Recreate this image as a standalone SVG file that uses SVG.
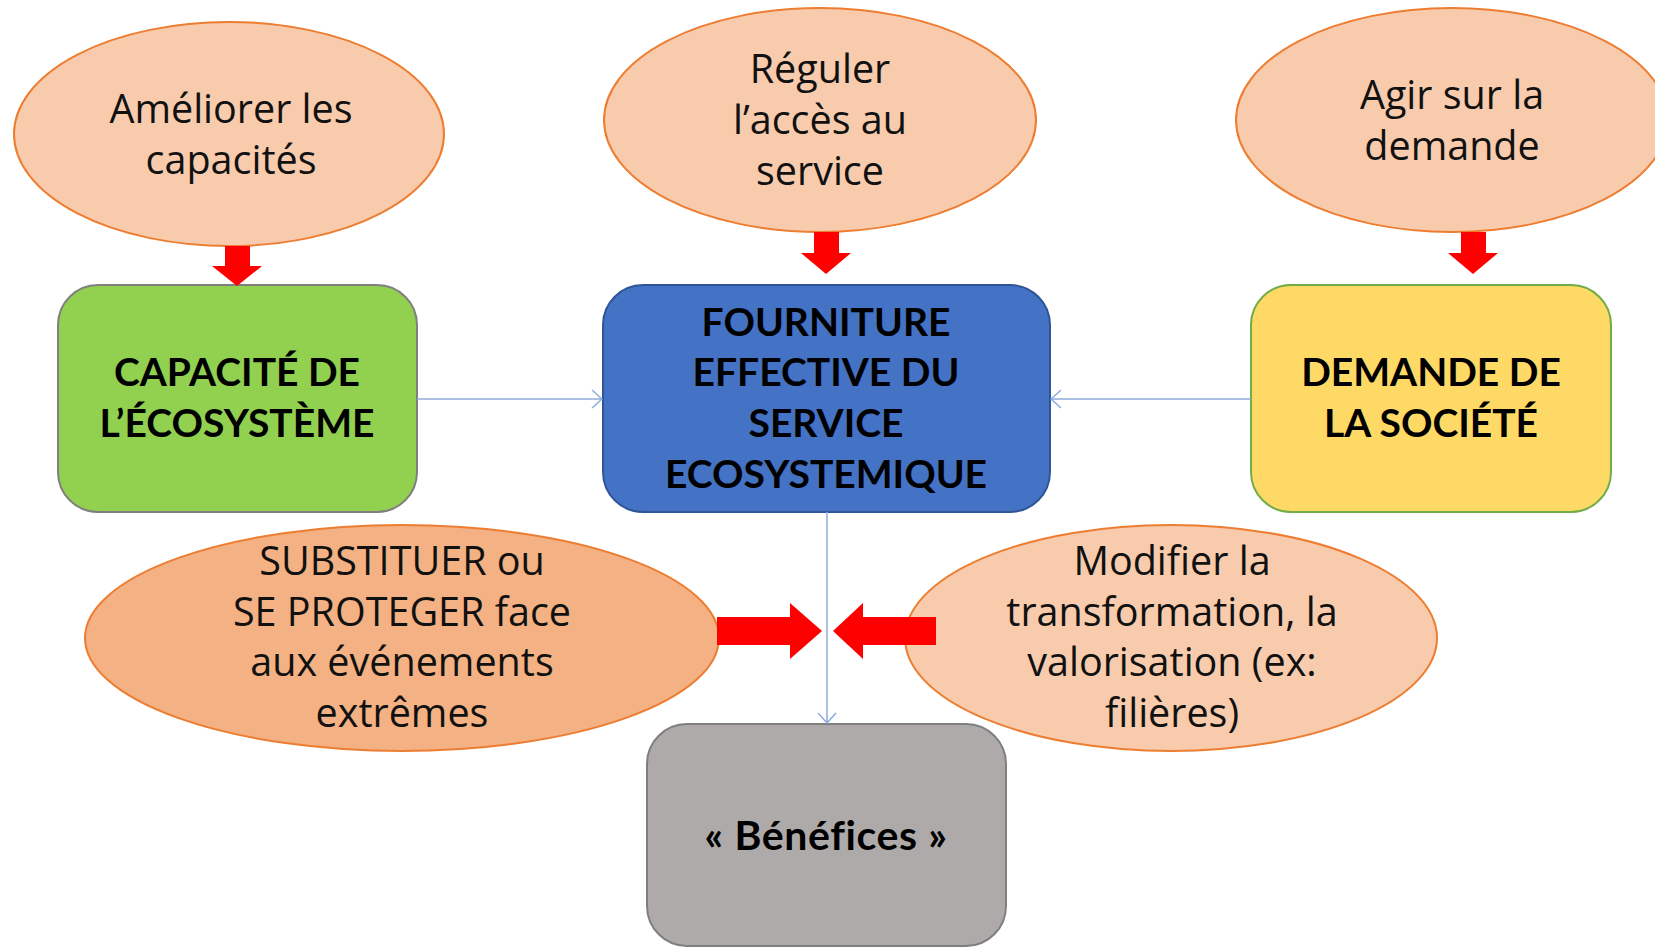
<svg xmlns="http://www.w3.org/2000/svg" width="1655" height="948" viewBox="0 0 1655 948">
<defs>
<style>
.ell{fill:#F8CBAD;stroke:#ED7D31;stroke-width:2}
.ell2{fill:#F4B183;stroke:#ED7D31;stroke-width:2}
.t{font-family:"Open Sans",Lato,"Liberation Sans",sans-serif;font-size:39.5px;fill:#111;text-anchor:middle}
.b{font-family:Lato,"Open Sans","Liberation Sans",sans-serif;font-size:39px;font-weight:bold;fill:#000;text-anchor:middle}
.con{stroke:#8FAADC;stroke-width:1.5;fill:none}
.red{fill:#FF0000}
</style>
<marker id="chev" viewBox="0 0 12 20" refX="11" refY="10" markerWidth="12" markerHeight="20" markerUnits="userSpaceOnUse" orient="auto">
<path d="M1,1 L11,10 L1,19" fill="none" stroke="#8FAADC" stroke-width="1.5"/>
</marker>
</defs>
<rect width="1655" height="948" fill="#fff"/>

<g id="n-ameliorer">
<ellipse class="ell" cx="229" cy="134" rx="215" ry="112"/>
<text class="t" x="231" y="123">Améliorer les</text>
<text class="t" x="231" y="174">capacités</text>
</g>
<g id="n-reguler">
<ellipse class="ell" cx="820" cy="120" rx="216" ry="112"/>
<text class="t" x="820" y="83">Réguler</text>
<text class="t" x="820" y="134">l’accès au</text>
<text class="t" x="820" y="185">service</text>
</g>
<g id="n-agir">
<ellipse class="ell" cx="1452" cy="120" rx="216" ry="112"/>
<text class="t" x="1452" y="109">Agir sur la</text>
<text class="t" x="1452" y="160">demande</text>
</g>

<g id="n-capacite">
<rect x="58" y="285" width="359" height="227" rx="40" fill="#92D050" stroke="#7F7F7F" stroke-width="2"/>
<text class="b" x="237" y="386">CAPACITÉ DE</text>
<text class="b" x="237" y="437">L’ÉCOSYSTÈME</text>
</g>
<g id="n-fourniture">
<rect x="603" y="285" width="447" height="227" rx="40" fill="#4472C4" stroke="#2F5597" stroke-width="2"/>
<text class="b" x="826" y="336">FOURNITURE</text>
<text class="b" x="826" y="386">EFFECTIVE DU</text>
<text class="b" x="826" y="437">SERVICE</text>
<text class="b" x="826" y="488">ECOSYSTEMIQUE</text>
</g>
<g id="n-demande">
<rect x="1251" y="285" width="360" height="227" rx="40" fill="#FFD966" stroke="#70AD47" stroke-width="2"/>
<text class="b" x="1431" y="386">DEMANDE DE</text>
<text class="b" x="1431" y="437">LA SOCIÉTÉ</text>
</g>

<g id="n-substituer">
<ellipse class="ell2" cx="402" cy="638" rx="317" ry="113"/>
<text class="t" x="402" y="575">SUBSTITUER ou</text>
<text class="t" x="402" y="626">SE PROTEGER face</text>
<text class="t" x="402" y="676">aux événements</text>
<text class="t" x="402" y="727">extrêmes</text>
</g>
<g id="n-modifier">
<ellipse class="ell" cx="1171" cy="638" rx="266" ry="113"/>
<text class="t" x="1172" y="575">Modifier la</text>
<text class="t" x="1172" y="626">transformation, la</text>
<text class="t" x="1172" y="676">valorisation (ex:</text>
<text class="t" x="1172" y="727">filières)</text>
</g>

<g id="n-benefices">
<rect x="647" y="724" width="359" height="222" rx="40" fill="#AEAAAA" stroke="#7F7F7F" stroke-width="2"/>
<text class="b" x="826" y="850" style="font-size:41px;letter-spacing:0.6px">« Bénéfices »</text>
</g>

<g id="connectors">
<line class="con" x1="417" y1="399" x2="602" y2="399" marker-end="url(#chev)"/>
<line class="con" x1="1251" y1="399" x2="1051" y2="399" marker-end="url(#chev)"/>
<line class="con" x1="827" y1="512" x2="827" y2="723" marker-end="url(#chev)"/>
<polygon class="red" points="225,246 250,246 250,266 262,266 237,286 212,266 225,266"/>
<polygon class="red" points="814,232 839,232 839,253 851,253 826,274 801,253 814,253"/>
<polygon class="red" points="1461,232 1486,232 1486,253 1498,253 1473,274 1448,253 1461,253"/>
<polygon class="red" points="717,617 790,617 790,603 822,631 790,659 790,645 717,645"/>
<polygon class="red" points="936,617 863,617 863,603 833,631 863,659 863,645 936,645"/>
</g>
</svg>
